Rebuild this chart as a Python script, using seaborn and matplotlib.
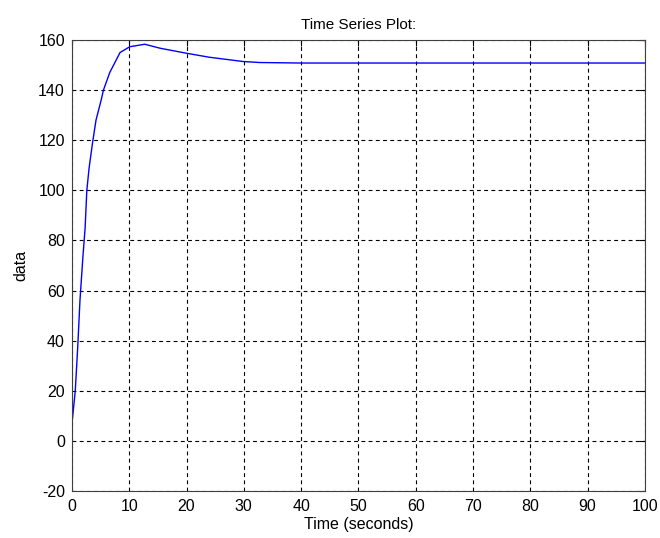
import matplotlib
matplotlib.use("Agg")
import matplotlib.pyplot as plt
import seaborn as sns
import pandas as pd

# values
time_s = [0, 0, 0.1, 0.58, 1.0, 1.4, 1.9, 2.3, 2.6, 3.0, 3.6, 4.2, 5.1, 5.5,
          6.6, 8.4, 10.1, 12.7, 15.4, 20, 24, 29.9, 32.8, 40, 60, 80, 100]
data_vals = [-4, 8, 9, 20, 37, 56, 73, 85, 100, 109, 119, 128, 136, 140,
             147, 155, 157.3, 158.3, 156.7, 154.7, 153.1, 151.4, 151.0, 150.8,
             150.8, 150.8, 150.8]
x_ticks = list(range(0, 101, 10))
y_ticks = list(range(-20, 161, 20))

df = pd.DataFrame({"t": time_s, "v": data_vals})

sns.set_style("white")
plt.rcParams["font.family"] = ["Liberation Sans", "DejaVu Sans"]
plt.rcParams["axes.unicode_minus"] = False

fig = plt.figure(figsize=(6.6, 5.38), dpi=100)
ax = fig.add_axes([0.109, 0.0874, 0.868, 0.8383])

sns.lineplot(data=df, x="t", y="v", ax=ax, color="#0000ff", linewidth=1,
             sort=False, estimator=None)

ax.set_xlim(0, 100)
ax.set_ylim(-20, 160)
ax.set_xticks(x_ticks)
ax.set_yticks(y_ticks)
ax.grid(True, color="black", linestyle=(0, (3.5, 3)), linewidth=0.8)
ax.tick_params(direction="in", length=4, top=True, right=True,
               labelsize=11.5, colors="black", width=0.8)
ax.tick_params(axis="x", pad=6)
ax.tick_params(axis="y", pad=5)
for s in ax.spines.values():
    s.set_color("#404040")
    s.set_linewidth(0.8)
    s.set_visible(True)

ax.set_title("Time Series Plot:", fontsize=11, pad=8, color="black")
ax.set_xlabel("Time (seconds)", fontsize=11.5, labelpad=2, color="black")
ax.set_ylabel("data", fontsize=11.5, labelpad=7, color="black")

fig.savefig("out.png", dpi=100)
